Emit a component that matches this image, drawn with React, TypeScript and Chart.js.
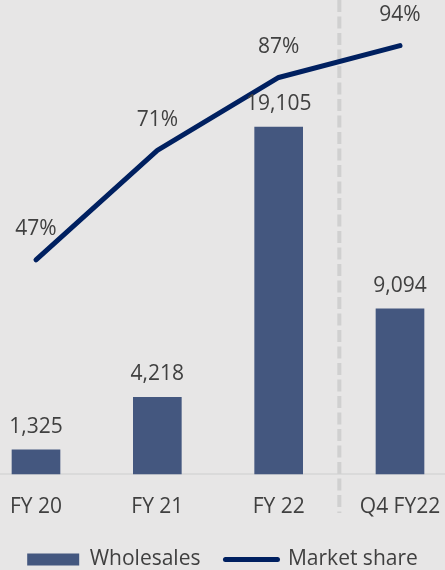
import React, { useEffect, useRef } from "react";
import { Chart, registerables } from "chart.js";

Chart.register(...registerables);

const categories = ["FY 20", "FY 21", "FY 22", "Q4 FY22"];
const wholesales = [1325, 4218, 19105, 9094];
const marketShare = [47, 71, 87, 94];

const FONT = "'Open Sans', sans-serif";
const BG = "#e7e6e6";
const BAR = "#44577f";
const LINE = "#002060";
const TEXT = "#404040";
const AXIS = "#d6d6d6";
const DASH = "#d0d0d0";

const bgPlugin = {
  id: "bg",
  beforeDraw(chart: any) {
    const ctx = chart.ctx;
    ctx.save();
    ctx.fillStyle = BG;
    ctx.fillRect(0, 0, chart.width, chart.height);
    ctx.restore();
  },
};

const decoPlugin = {
  id: "deco",
  beforeDatasetsDraw(chart: any) {
    const ctx = chart.ctx;
    const x = chart.scales.x;
    const y = chart.scales.y;
    const base = y.getPixelForValue(0);
    ctx.save();
    ctx.strokeStyle = AXIS;
    ctx.lineWidth = 1.5;
    ctx.beginPath();
    ctx.moveTo(0, base);
    ctx.lineTo(chart.width, base);
    ctx.stroke();
    const mid = (x.getPixelForValue(2) + x.getPixelForValue(3)) / 2;
    ctx.strokeStyle = DASH;
    ctx.lineWidth = 4;
    ctx.setLineDash([12, 4.5]);
    ctx.beginPath();
    ctx.moveTo(mid, 0);
    ctx.lineTo(mid, x.bottom - 11);
    ctx.stroke();
    ctx.restore();
  },
};

const labelPlugin = {
  id: "valueLabels",
  afterDatasetsDraw(chart: any) {
    const ctx = chart.ctx;
    ctx.save();
    ctx.font = `21px ${FONT}`;
    ctx.fillStyle = TEXT;
    ctx.textAlign = "center";
    ctx.textBaseline = "middle";
    chart.getDatasetMeta(0).data.forEach((el: any, i: number) => {
      ctx.fillText(wholesales[i].toLocaleString("en-US"), el.x, el.y - 23);
    });
    chart.getDatasetMeta(1).data.forEach((el: any, i: number) => {
      ctx.fillText(marketShare[i] + "%", el.x, el.y - 30.5);
    });
    ctx.restore();
  },
};

export default function App() {
  const ref = useRef<HTMLCanvasElement>(null);
  useEffect(() => {
    const canvas = ref.current!;
    const chart = new Chart(canvas, {
      type: "bar",
      data: {
        labels: categories,
        datasets: [
          {
            type: "bar",
            label: "Wholesales",
            data: wholesales,
            backgroundColor: BAR,
            barThickness: 48,
            yAxisID: "y",
            order: 2,
            clip: false,
          } as any,
          {
            type: "line",
            label: "Market share",
            data: marketShare,
            borderColor: LINE,
            backgroundColor: LINE,
            borderWidth: 5,
            pointRadius: 0,
            borderCapStyle: "round",
            borderJoinStyle: "round",
            tension: 0,
            yAxisID: "y2",
            order: 1,
            clip: false,
          } as any,
        ],
      },
      options: {
        responsive: false,
        animation: false,
        events: [],
        layout: { padding: 0 },
        scales: {
          x: {
            offset: false,
            grid: { display: false, drawTicks: false },
            border: { display: false },
            ticks: {
              color: TEXT,
              font: { family: FONT, size: 21, lineHeight: 1.57 },
              padding: 17,
              autoSkip: false,
              maxRotation: 0,
            },
            afterFit: (scale: any) => {
              scale.paddingLeft = 36;
              scale.paddingRight = 45;
              scale.height = 50;
            },
          },
          y: { display: false, min: 0, max: 26100 },
          y2: { display: false, min: 0, max: 104, position: "right" },
        },
        plugins: {
          tooltip: { enabled: false },
          legend: {
            position: "bottom",
            labels: {
              usePointStyle: true,
              pointStyleWidth: 52,
              boxHeight: 12,
              padding: 25,
              color: TEXT,
              font: { family: FONT, size: 21 },
              generateLabels: (c: any) =>
                c.data.datasets.map((ds: any, i: number) => ({
                  text: ds.label,
                  fillStyle: i === 0 ? BAR : LINE,
                  strokeStyle: i === 0 ? BAR : LINE,
                  lineWidth: i === 0 ? 0 : 5,
                  pointStyle: i === 0 ? "rect" : "line",
                  lineCap: "round",
                  hidden: false,
                  datasetIndex: i,
                  fontColor: TEXT,
                })),
            },
          },
        },
      } as any,
      plugins: [bgPlugin, decoPlugin, labelPlugin],
    });
    return () => chart.destroy();
  }, []);
  return (
    <div
      style={{
        position: "fixed",
        left: 0,
        top: 0,
        width: 445,
        height: 570,
        overflow: "hidden",
        background: BG,
      }}
    >
      <canvas ref={ref} width={445} height={580} style={{ display: "block" }} />
    </div>
  );
}
